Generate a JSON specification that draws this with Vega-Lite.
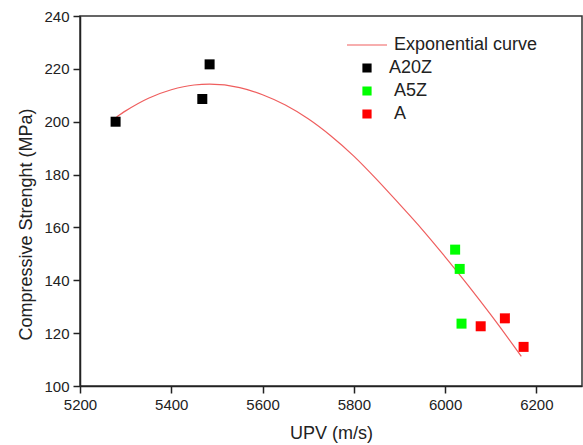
{
  "$schema": "https://vega.github.io/schema/vega-lite/v6.json",
  "width": 502,
  "height": 370,
  "autosize": {"type": "none"},
  "padding": {"left": 80, "top": 16, "right": 1, "bottom": 59},
  "config": {
    "font": "Liberation Sans",
    "view": {"stroke": "#333333", "strokeWidth": 1.5},
    "axis": {
      "labelColor": "#222222",
      "titleColor": "#222222",
      "labelFontSize": 15,
      "titleFontSize": 18,
      "titleFontWeight": "normal"
    }
  },
  "data": {
    "values": [
      {"upv": 5278, "strength": 200.0, "series": "A20Z", "kind": "point"},
      {"upv": 5468, "strength": 208.6, "series": "A20Z", "kind": "point"},
      {"upv": 5484, "strength": 221.7, "series": "A20Z", "kind": "point"},
      {"upv": 6022, "strength": 151.6, "series": "A5Z", "kind": "point"},
      {"upv": 6032, "strength": 144.3, "series": "A5Z", "kind": "point"},
      {"upv": 6036, "strength": 123.6, "series": "A5Z", "kind": "point"},
      {"upv": 6078, "strength": 122.6, "series": "A", "kind": "point"},
      {"upv": 6131, "strength": 125.6, "series": "A", "kind": "point"},
      {"upv": 6172, "strength": 114.8, "series": "A", "kind": "point"},
      {"upv": 5280, "strength": 201.8, "series": "Exponential curve", "kind": "curve"},
      {"upv": 5300, "strength": 204.1, "series": "Exponential curve", "kind": "curve"},
      {"upv": 5350, "strength": 208.9, "series": "Exponential curve", "kind": "curve"},
      {"upv": 5400, "strength": 212.1, "series": "Exponential curve", "kind": "curve"},
      {"upv": 5450, "strength": 213.9, "series": "Exponential curve", "kind": "curve"},
      {"upv": 5484, "strength": 214.2, "series": "Exponential curve", "kind": "curve"},
      {"upv": 5550, "strength": 212.9, "series": "Exponential curve", "kind": "curve"},
      {"upv": 5600, "strength": 210.2, "series": "Exponential curve", "kind": "curve"},
      {"upv": 5650, "strength": 206.3, "series": "Exponential curve", "kind": "curve"},
      {"upv": 5700, "strength": 201.1, "series": "Exponential curve", "kind": "curve"},
      {"upv": 5750, "strength": 194.6, "series": "Exponential curve", "kind": "curve"},
      {"upv": 5800, "strength": 187.0, "series": "Exponential curve", "kind": "curve"},
      {"upv": 5850, "strength": 178.2, "series": "Exponential curve", "kind": "curve"},
      {"upv": 5900, "strength": 168.8, "series": "Exponential curve", "kind": "curve"},
      {"upv": 5950, "strength": 159.2, "series": "Exponential curve", "kind": "curve"},
      {"upv": 6000, "strength": 148.9, "series": "Exponential curve", "kind": "curve"},
      {"upv": 6050, "strength": 138.2, "series": "Exponential curve", "kind": "curve"},
      {"upv": 6100, "strength": 127.0, "series": "Exponential curve", "kind": "curve"},
      {"upv": 6150, "strength": 115.3, "series": "Exponential curve", "kind": "curve"},
      {"upv": 6167, "strength": 111.2, "series": "Exponential curve", "kind": "curve"}
    ]
  },
  "encoding": {
    "x": {
      "field": "upv",
      "type": "quantitative",
      "scale": {"domain": [5200, 6300], "nice": false, "zero": false},
      "axis": {
        "title": "UPV (m/s)",
        "tickCount": 6,
        "format": "d",
        "grid": true,
        "gridOpacity": 0,
        "ticks": true,
        "zindex": 1,
        "domainColor": "#222222",
        "domainWidth": 1.5,
        "tickColor": "#222222",
        "tickWidth": 1.5,
        "tickSize": 7,
        "labelPadding": 4,
        "titlePadding": 12,
        "labelFlush": false
      }
    },
    "y": {
      "field": "strength",
      "type": "quantitative",
      "scale": {"domain": [100, 240], "nice": false, "zero": false},
      "axis": {
        "title": "Compressive Strenght (MPa)",
        "tickCount": 7,
        "grid": true,
        "gridOpacity": 0,
        "ticks": true,
        "zindex": 1,
        "domainColor": "#222222",
        "domainWidth": 1.5,
        "tickColor": "#222222",
        "tickWidth": 1.5,
        "tickSize": 7,
        "labelPadding": 4,
        "titleX": -45,
        "titleY": 208,
        "labelFlush": false
      }
    },
    "color": {
      "field": "series",
      "type": "nominal",
      "scale": {
        "domain": ["Exponential curve", "A20Z", "A5Z", "A"],
        "range": ["#ef5e5e", "#000000", "#00ff00", "#ff0000"]
      },
      "legend": {
        "title": null,
        "orient": "none",
        "legendX": 278,
        "legendY": 20,
        "padding": 0,
        "labelFontSize": 18,
        "labelColor": "#222222",
        "symbolSize": 64,
        "labelOffset": 18,
        "rowPadding": 5,
        "encode": {
          "labels": {
            "update": {
              "dx": {"signal": "datum.value === 'A20Z' ? -5 : 0"}
            }
          },
          "symbols": {
            "update": {
              "shape": {"signal": "datum.value === 'Exponential curve' ? 'M-5,0H5' : 'square'"},
              "size": {"value": 64},
              "fill": {"signal": "datum.value === 'Exponential curve' ? 'transparent' : scale('color', datum.value)"},
              "stroke": {"signal": "datum.value === 'Exponential curve' ? '#ef5e5e' : 'transparent'"},
              "strokeWidth": {"value": 1.2},
              "opacity": {"value": 1}
            }
          }
        }
      }
    }
  },
  "layer": [
    {
      "transform": [{"filter": "datum.kind === 'curve'"}],
      "mark": {"type": "line", "interpolate": "monotone", "strokeWidth": 1.2}
    },
    {
      "transform": [{"filter": "datum.kind === 'point'"}],
      "mark": {"type": "point", "shape": "square", "filled": true, "size": 100, "opacity": 1}
    }
  ]
}
